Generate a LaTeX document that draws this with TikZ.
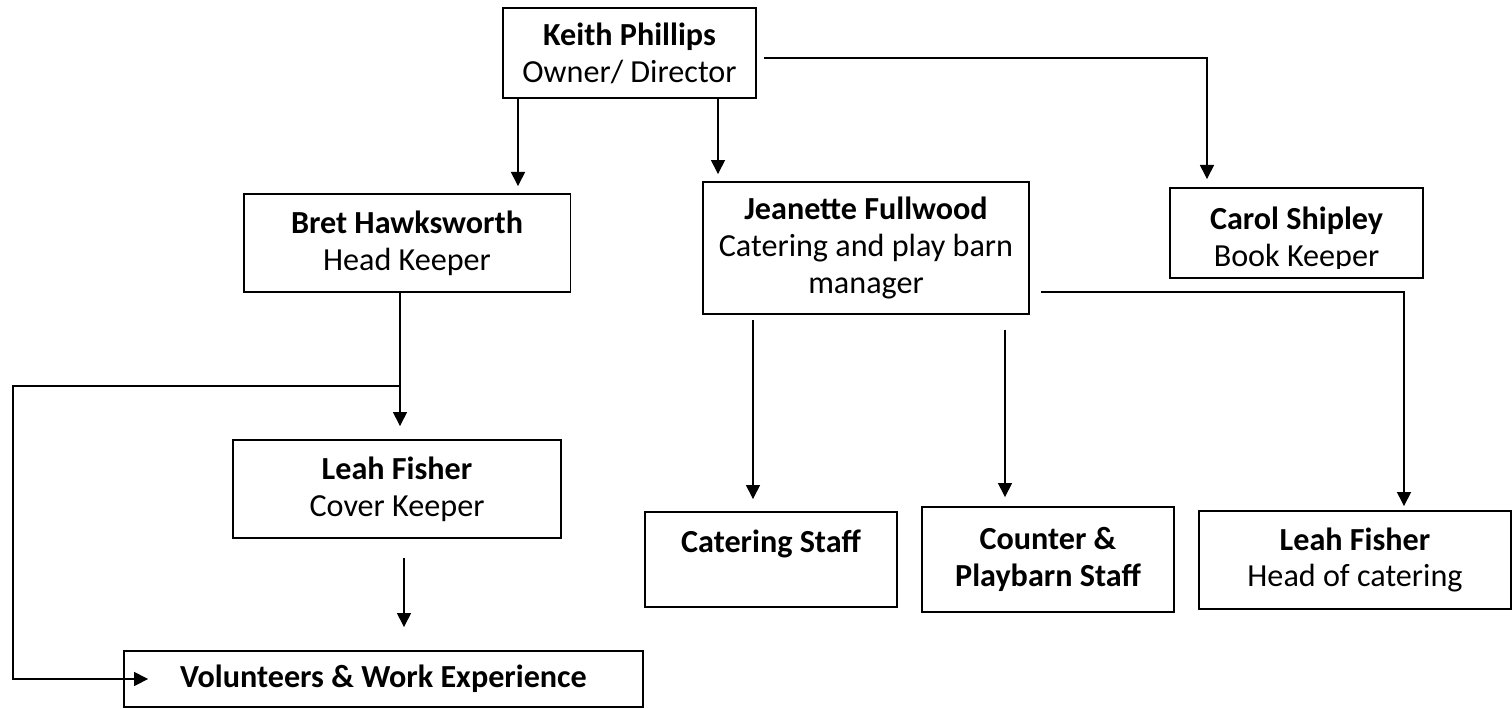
\documentclass[tikz,border=0pt]{standalone}
\usepackage{fontspec}
\setmainfont{Carlito}
\usepackage{tikz}
\usetikzlibrary{arrows, arrows.meta, positioning}

\begin{document}
\begin{tikzpicture}[x=0.02cm, y=-0.02cm, align=center, font=\fontsize{18.3}{21}\selectfont]

\tikzstyle{staff} = [rectangle, draw=black, line width=1.1pt, text centered, inner sep=2pt]
\tikzstyle{arrow} = [line width=0.8pt, -{Triangle[length=8pt,width=8pt]}]

\useasboundingbox (0,0) rectangle (1512,708);

\node (keith) [staff, minimum width=5.06cm, minimum height=1.8cm] at (629.5,53) {\textbf{Keith Phillips}\\Owner/ Director};
\node (bret) [staff, minimum width=6.54cm, minimum height=1.96cm] at (407,243) {\textbf{Bret Hawksworth}\\Head Keeper};
\node (jean) [staff, minimum width=6.52cm, minimum height=2.64cm] at (866,248) {\textbf{Jeanette Fullwood}\\Catering and play barn\\manager};
\node (carol) [staff, minimum width=5.06cm, minimum height=1.8cm] at (1296.5,233) {};
\begin{scope}
\clip (carol.north west) rectangle ([yshift=0.2cm]carol.south east);
\node (carolt) at (1296.5,239) {\textbf{Carol Shipley}\\Book Keeper};
\end{scope}
\node (leahc) [staff, minimum width=6.56cm, minimum height=1.96cm] at (397,489) {\textbf{Leah Fisher}\\Cover Keeper};
\node (volun) [staff, minimum width=10.38cm, minimum height=1.12cm] at (383.5,679) {\textbf{Volunteers \& Work Experience}};
\node (cater) [staff, minimum width=5.04cm, minimum height=1.9cm] at (771,559.5) {\textbf{Catering Staff}\\\mbox{}};
\node (counter) [staff, minimum width=5.04cm, minimum height=2.1cm] at (1048,559.5) {\textbf{Counter \&}\\\textbf{Playbarn Staff}};
\node (leahh) [staff, minimum width=6.24cm, minimum height=1.96cm] at (1355,560) {\textbf{Leah Fisher}\\Head of catering};

\coordinate (kb) at (518,0);
\coordinate (kj) at (718,0);
\coordinate (kc) at (1207,58);
\coordinate (bl) at (400,386);
\coordinate (bv) at (13,386);
\coordinate (lv) at (404,0);
\coordinate (jc) at (753,0);
\coordinate (jp) at (1005,0);
\coordinate (jl) at (1404,292);

\draw [arrow, shorten >=0.14cm] (keith.south -| kb) -- (bret.north -| kb);
\draw [arrow, shorten >=0.14cm] (keith.south -| kj) -- (jean.north -| kj);
\draw [arrow, shorten <=0.14cm, shorten >=0.16cm] (keith.east |- kc) -| (carol.north -| kc);
\draw [arrow, shorten >=0.26cm] (bret.south -| bl) -- (leahc.north -| bl);
\draw [arrow] (bl) -- (bv) |- ([xshift=0.5cm]volun.west);
\draw [arrow, shorten <=0.38cm, shorten >=0.46cm] (leahc.south -| lv) -- (volun.north -| lv);
\draw [arrow, shorten <=0.1cm, shorten >=0.24cm] (jean.south -| jc) -- (cater.north -| jc);
\draw [arrow, shorten <=0.3cm, shorten >=0.18cm] (jean.south -| jp) -- (counter.north -| jp);
\draw [arrow, shorten <=0.22cm, shorten >=0.08cm] (jean.east |- jl) -| (leahh.north -| jl);
\end{tikzpicture}
\end{document}
